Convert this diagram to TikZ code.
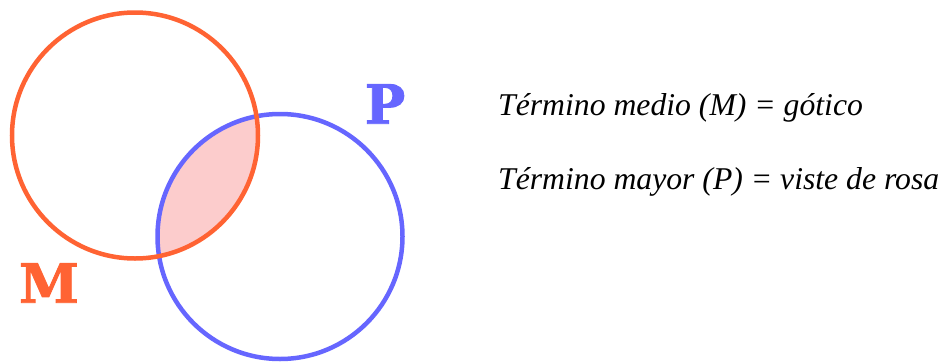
\documentclass[tikz,border=0pt]{standalone}
\usepackage{fontspec}
\setmainfont{Liberation Serif}
\newfontfamily\labelfont[BoldFeatures={FakeBold=1.6}]{DejaVu Serif}
\definecolor{morange}{RGB}{255,99,51}
\definecolor{pblue}{RGB}{102,102,255}
\definecolor{lens}{RGB}{252,204,204}
\begin{document}
\begin{tikzpicture}[x=1pt,y=-1pt,
  setcircle/.style={line width=4.5pt},
  letterlabel/.style={font=\labelfont\bfseries\fontsize{54}{54}\selectfont, inner sep=0pt},
  termtext/.style={font=\itshape\fontsize{31.7}{38}\selectfont, anchor=base west, inner sep=0pt}]
\useasboundingbox (0,0) rectangle (943,362);
\coordinate (cM) at (135,135.5);
\coordinate (cP) at (280,236.5);
\begin{scope}
  \clip (cM) circle[radius=123];
  \fill[lens] (cP) circle[radius=122.5];
\end{scope}
\draw[setcircle, pblue] (cP) circle[radius=122.5];
\draw[setcircle, morange] (cM) circle[radius=123];
\node[letterlabel, text=morange] (lM) at (49,283) {M};
\node[letterlabel, text=pblue] (lP) at (385,104) {P};
\node[termtext] (t1) at (498,115) {Término medio (M) = gótico};
\node[termtext] (t2) at (498,189) {Término mayor (P) = viste de rosa};
\end{tikzpicture}
\end{document}
